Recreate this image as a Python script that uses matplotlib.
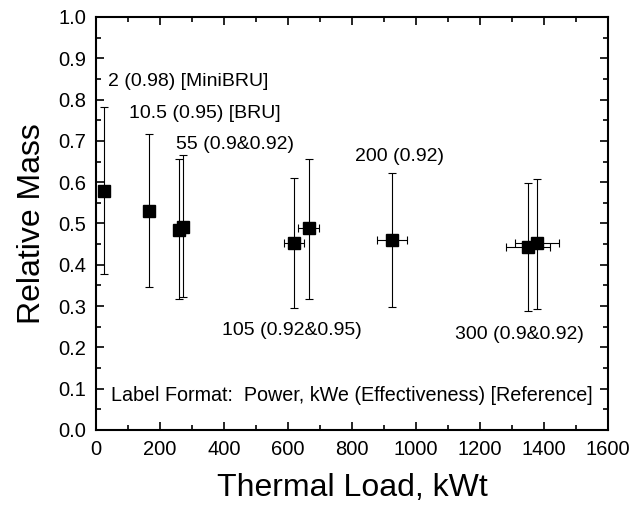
import numpy as np
import matplotlib
matplotlib.use("Agg")
import matplotlib.pyplot as plt
from matplotlib.ticker import MultipleLocator

plt.rcParams['font.family'] = ['Liberation Sans', 'DejaVu Sans']

# thermal load (kWt), relative mass and error ranges
load = [25, 166, 260, 272, 619, 665, 925, 1350, 1378]
mass = [0.579, 0.530, 0.484, 0.492, 0.453, 0.489, 0.460, 0.443, 0.452]
mass_hi = [0.782, 0.716, 0.656, 0.665, 0.611, 0.656, 0.622, 0.598, 0.608]
mass_lo = [0.378, 0.346, 0.317, 0.322, 0.295, 0.317, 0.298, 0.288, 0.294]
load_err = [0, 0, 0, 0, 32, 33, 47, 68, 68]

point_labels = ["2 (0.98) [MiniBRU]", "10.5 (0.95) [BRU]", "55 (0.9&0.92)",
                "105 (0.92&0.95)", "200 (0.92)", "300 (0.9&0.92)"]
note = "Label Format:  Power, kWe (Effectiveness) [Reference]"

load = np.array(load)
mass = np.array(mass)
yerr = [mass - np.array(mass_lo), np.array(mass_hi) - mass]
load_err = np.array(load_err)

fig = plt.figure(figsize=(6.31, 5.07), dpi=100)
ax = fig.add_axes([0.152, 0.152, 0.8115, 0.8145])

ax.errorbar(load, mass, yerr=yerr, fmt='none', ecolor='black',
            elinewidth=0.8, capsize=3, capthick=0.8, zorder=2)
has_x = load_err > 0
ax.errorbar(load[has_x], mass[has_x], xerr=load_err[has_x], fmt='none',
            ecolor='black', elinewidth=0.8, capsize=3, capthick=0.8, zorder=2)
ax.plot(load, mass, 's', color='black', markersize=8, zorder=3)

# annotations (left x, center y in data coords)
label_pos = [(37, 0.843), (104, 0.767), (250, 0.690),
             (393, 0.240), (809, 0.663), (1122, 0.230)]
for txt, (x, y) in zip(point_labels, label_pos):
    ax.text(x, y, txt, fontsize=14, ha='left', va='center')
ax.text(46, 0.083, note, fontsize=14.2, ha='left', va='center')

ax.set_xlim(0, 1600)
ax.set_ylim(0, 1.0)
ax.xaxis.set_major_locator(MultipleLocator(200))
ax.xaxis.set_minor_locator(MultipleLocator(100))
ax.yaxis.set_major_locator(MultipleLocator(0.1))
ax.yaxis.set_minor_locator(MultipleLocator(0.05))
ax.yaxis.set_major_formatter(plt.FormatStrFormatter('%.1f'))
ax.tick_params(which='both', direction='in', top=True, right=True,
               labelsize=14.5, width=1.2, pad=7)
ax.tick_params(which='major', length=6)
ax.tick_params(which='minor', length=3.5)
for s in ax.spines.values():
    s.set_linewidth(1.5)

ax.set_xlabel("Thermal Load, kWt", fontsize=23, labelpad=10)
ax.set_ylabel("Relative Mass", fontsize=23, labelpad=8)

fig.savefig("out.png", dpi=100)
